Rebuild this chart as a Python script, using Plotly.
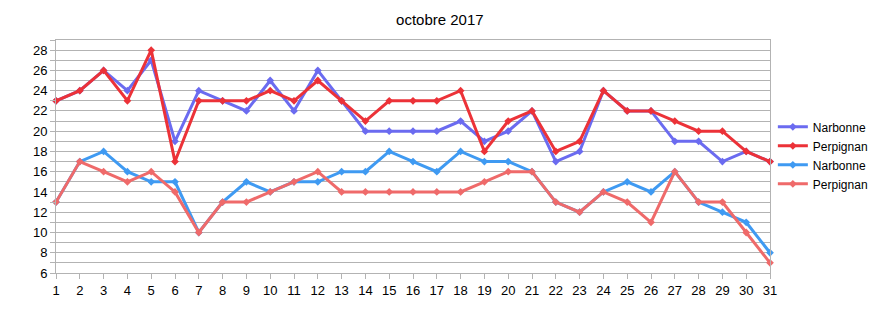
import plotly.graph_objects as go

days = list(range(1, 32))
narbonne_max = [23,24,26,24,27,19,24,23,22,25,22,26,23,20,20,20,20,21,19,20,22,17,18,24,22,22,19,19,17,18,17]
perpignan_max = [23,24,26,23,28,17,23,23,23,24,23,25,23,21,23,23,23,24,18,21,22,18,19,24,22,22,21,20,20,18,17]
narbonne_min = [13,17,18,16,15,15,10,13,15,14,15,15,16,16,18,17,16,18,17,17,16,13,12,14,15,14,16,13,12,11,8]
perpignan_min = [13,17,16,15,16,14,10,13,13,14,15,16,14,14,14,14,14,14,15,16,16,13,12,14,13,11,16,13,13,10,7]

series = [
    ("Narbonne", narbonne_max, "#6b6bf0"),
    ("Perpignan", perpignan_max, "#ec3238"),
    ("Narbonne", narbonne_min, "#3f9af2"),
    ("Perpignan", perpignan_min, "#ef6a6a"),
]

fig = go.Figure()
for name, vals, col in series:
    fig.add_trace(go.Scatter(
        x=days, y=vals, name=name, mode="lines+markers",
        line=dict(color=col, width=3),
        marker=dict(symbol="diamond", size=6, color=col),
        cliponaxis=False,
    ))

fig.update_layout(
    width=885, height=323,
    margin=dict(l=56, r=113, t=40, b=50),
    paper_bgcolor="white", plot_bgcolor="white",
    font=dict(family="Liberation Sans, Arial, sans-serif", size=12, color="#000"),
    title=dict(text="octobre 2017", x=0.497, xanchor="center", y=0.94, yanchor="middle",
               font=dict(size=15)),
    showlegend=True,
    legend=dict(x=1.004, xanchor="left", y=0.505, yanchor="middle",
                font=dict(size=12), itemwidth=30, tracegroupgap=0,
                borderwidth=0,
                bgcolor="rgba(0,0,0,0)"),
)
fig.update_xaxes(
    range=[1, 31], tickmode="array", tickvals=days, ticktext=[str(d) for d in days],
    showgrid=False, zeroline=False,
    showline=True, linecolor="#b3b3b3", linewidth=1, mirror=True,
    ticks="outside", ticklen=5, tickcolor="#b3b3b3",
    tickfont=dict(size=13),
)
fig.update_yaxes(
    range=[6, 29], tick0=6, dtick=2,
    showgrid=True, gridcolor="#b3b3b3", gridwidth=1,
    minor=dict(dtick=1, tick0=6, showgrid=True, gridcolor="#b3b3b3", gridwidth=1,
               ticks="outside", ticklen=5, tickcolor="#b3b3b3"),
    zeroline=False,
    showline=True, linecolor="#b3b3b3", linewidth=1, mirror=True,
    ticks="outside", ticklen=5, tickcolor="#b3b3b3",
    tickfont=dict(size=13),
)

fig.write_html("out.html")
